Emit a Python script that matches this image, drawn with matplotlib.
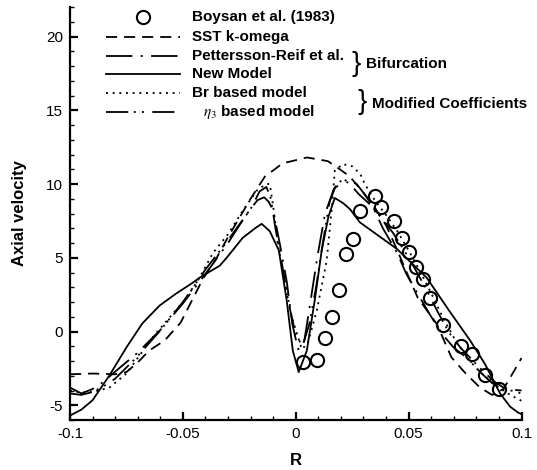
import matplotlib
matplotlib.use('Agg')
import matplotlib.pyplot as plt
from matplotlib.ticker import MultipleLocator, FixedLocator, FixedFormatter

plt.rcParams['font.family'] = ['Liberation Sans', 'DejaVu Sans']
plt.rcParams['mathtext.fontset'] = 'stix'
plt.rcParams['lines.scale_dashes'] = False

# ---------------- data ----------------
boysan_r = [0.0031, 0.0093, 0.0129, 0.0160, 0.0191, 0.0222, 0.0253, 0.0284, 0.0350, 0.0377,
            0.0435, 0.0470, 0.0500, 0.0532, 0.0563, 0.0594, 0.0652, 0.0732, 0.0780, 0.0838, 0.0900]
boysan_v = [-2.09, -1.96, -0.41, 1.01, 2.84, 5.27, 6.28, 8.18, 9.19, 8.45,
            7.5, 6.35, 5.4, 4.39, 3.58, 2.30, 0.41, -0.95, -1.55, -2.97, -3.9]

sst_r = [-0.1, -0.09, -0.08, -0.075, -0.07, -0.065, -0.058, -0.051, -0.046, -0.041, -0.035,
         -0.03, -0.02, -0.0137, -0.0058, 0.005, 0.0142, 0.0195, 0.024, 0.03, 0.035, 0.04,
         0.045, 0.05, 0.054, 0.0625, 0.069, 0.075, 0.0816, 0.087, 0.092, 0.097, 0.1]
sst_v = [-2.9, -2.85, -2.9, -2.75, -2.1, -1.3, -0.6, 0.6, 2.1, 3.6, 5.0,
         6.4, 9.0, 10.5, 11.4, 11.8, 11.55, 11.0, 10.5, 9.4, 8.4, 7.2,
         5.5, 3.7, 2.3, 0.5, -1.76, -2.8, -3.8, -4.3, -3.9, -2.6, -1.8]

pr_r = [-0.1, -0.095, -0.09, -0.085, -0.081, -0.0705, -0.06, -0.05, -0.04, -0.03, -0.022,
        -0.017, -0.014, -0.012, -0.010, -0.007, -0.004, -0.0015, 0.001, 0.0035, 0.006,
        0.0095, 0.013, 0.017, 0.0226, 0.027, 0.031, 0.034, 0.0386, 0.045, 0.049, 0.055,
        0.06, 0.065, 0.07, 0.0767, 0.082, 0.087, 0.092, 0.1]
pr_v = [-3.8, -4.2, -3.9, -3.4, -2.85, -1.5, 0.1, 1.9, 3.9, 6.0, 7.9,
        8.9, 9.1, 8.8, 8.2, 5.9, 3.4, 0.5, -1.2, -0.9, 1.5,
        5.0, 8.0, 9.7, 10.3, 10.0, 9.2, 8.5, 7.0, 5.3, 3.9, 2.3,
        1.0, -0.2, -1.1, -1.9, -2.8, -3.5, -3.9, -4.0]

new_r = [-0.1, -0.095, -0.09, -0.0825, -0.075, -0.068, -0.0603, -0.053, -0.0457, -0.0426,
         -0.0337, -0.0306, -0.0235, -0.018, -0.0151, -0.0115, -0.0075, -0.004, -0.0013,
         0.0013, 0.0049, 0.0084, 0.0115, 0.0145, 0.0173, 0.021, 0.024, 0.0284, 0.0448,
         0.058, 0.068, 0.0772, 0.0838, 0.0905, 0.095, 0.0985, 0.1]
new_v = [-5.7, -5.3, -4.66, -2.97, -1.08, 0.54, 1.76, 2.57, 3.3, 3.65,
         4.46, 5.0, 6.35, 7.0, 7.3, 6.8, 5.5, 2.1, -1.3,
         -2.75, -1.3, 2.1, 5.5, 7.8, 9.05, 8.7, 8.3, 7.4, 5.6,
         3.65, 1.4, -0.6, -2.2, -4.2, -5.1, -5.5, -5.6]

br_r = [-0.1, -0.095, -0.09, -0.0825, -0.075, -0.0634, -0.0559, -0.0483, -0.0426, -0.0368,
        -0.03, -0.023, -0.017, -0.013, -0.0115, -0.010, -0.008, -0.0058, -0.0018, 0.0027,
        0.0053, 0.0093, 0.0137, 0.016, 0.0173, 0.0208, 0.025, 0.0285, 0.0306, 0.035, 0.04,
        0.045, 0.05, 0.055, 0.06, 0.065, 0.07, 0.075, 0.08, 0.085, 0.09, 0.095, 0.1]
br_v = [-4.0, -4.15, -4.1, -3.8, -2.85, -0.4, 0.95, 2.3, 3.65, 5.3,
        6.6, 8.3, 9.6, 10.0, 10.0, 8.5, 6.0, 4.1, 1.0, -1.2,
        -0.8, 1.4, 4.8, 8.4, 10.9, 11.35, 11.2, 10.7, 10.0, 8.9, 7.9,
        6.8, 5.5, 4.1, 2.6, 1.0, -0.4, -1.6, -2.5, -3.2, -3.8, -4.3, -4.7]

eta_r = [-0.1, -0.095, -0.09, -0.085, -0.08, -0.0705, -0.06, -0.05, -0.04, -0.03, -0.02,
         -0.016, -0.013, -0.011, -0.009, -0.006, -0.003, 0.0, 0.003, 0.006, 0.009, 0.012,
         0.015, 0.018, 0.021, 0.024, 0.028, 0.033, 0.038, 0.043, 0.048, 0.053, 0.058,
         0.063, 0.068, 0.073, 0.078, 0.083, 0.088, 0.093, 0.1]
eta_v = [-4.2, -4.3, -4.1, -3.7, -3.2, -1.75, 0.07, 2.0, 4.2, 6.2, 8.3,
         9.5, 9.8, 9.0, 7.0, 4.5, 1.8, -0.2, -1.0, 0.5, 3.0, 6.0,
         8.8, 10.0, 10.3, 10.0, 9.3, 8.6, 7.7, 6.7, 5.5, 4.2, 2.8,
         1.3, -0.1, -1.1, -1.9, -2.7, -3.4, -3.9, -4.2]

x_ticks = [-0.1, -0.05, 0.0, 0.05, 0.1]
x_tick_labels = ['-0.1', '-0.05', '0', '0.05', '0.1']
y_ticks = [-5, 0, 5, 10, 15, 20]
y_tick_labels = ['-5', '0', '5', '10', '15', '20']

labels = ['Boysan et al. (1983)', 'SST k-omega', 'Pettersson-Reif et al.', 'New Model',
          'Br based model', r'$\eta_3$ based model']
group_labels = ['Bifurcation', 'Modified Coefficients']

# ---------------- styles ----------------
LW = 1.3
sty_sst = dict(color='black', lw=LW, dashes=(8, 5))
sty_pr = dict(color='black', lw=LW, dashes=(19, 6, 1.5, 6))
sty_new = dict(color='black', lw=LW, linestyle='-')
sty_br = dict(color='black', lw=LW, dashes=(1.4, 3.4))
sty_eta = dict(color='black', lw=LW, dashes=(16, 4, 1.4, 4.5, 1.4, 6))
sty_exp = dict(linestyle='none', marker='o', ms=9.5, mfc='none', mec='black', mew=1.5)

W, H = 537, 470
fig = plt.figure(figsize=(W / 100, H / 100), dpi=100)
ax = fig.add_axes([70 / W, 1 - 420 / H, (521.5 - 70) / W, (420 - 7) / H])

ax.plot(sst_r, sst_v, **sty_sst)
ax.plot(pr_r, pr_v, **sty_pr)
ax.plot(new_r, new_v, **sty_new)
ax.plot(br_r, br_v, **sty_br)
ax.plot(eta_r, eta_v, **sty_eta)
ax.plot(boysan_r, boysan_v, **sty_exp)

ax.set_xlim(-0.1, 0.1)
ax.set_ylim(-6, 22)
for s in ['top', 'right']:
    ax.spines[s].set_visible(False)
for s in ['left', 'bottom']:
    ax.spines[s].set_linewidth(1.6)

ax.xaxis.set_major_locator(FixedLocator(x_ticks))
ax.xaxis.set_major_formatter(FixedFormatter(x_tick_labels))
ax.yaxis.set_major_locator(FixedLocator(y_ticks))
ax.yaxis.set_major_formatter(FixedFormatter(y_tick_labels))
ax.xaxis.set_minor_locator(MultipleLocator(0.01))
ax.yaxis.set_minor_locator(MultipleLocator(1))
ax.tick_params(which='major', direction='in', length=6, width=1.6, labelsize=11, pad=5)
ax.tick_params(which='minor', direction='in', length=3, width=1.0)
ax.tick_params(top=False, right=False, which='both')

ax.set_xlabel('R', fontsize=12, fontweight='bold', labelpad=9)
ax.set_ylabel('Axial velocity', fontsize=12, fontweight='bold', labelpad=14)

# ---------------- legend (manual, figure pixel coords) ----------------
def fx(x):
    return x / W

def fy(y):
    return 1 - y / H

tf = fig.transFigure
line_x0, line_x1, text_x = 106, 180, 192
rows_y = [17, 37, 56, 74, 93, 112]
FS = 11
fig.add_artist(plt.Line2D([fx((line_x0 + line_x1) / 2)], [fy(rows_y[0])], transform=tf, **sty_exp))
for y, st in zip(rows_y[1:], [sty_sst, sty_pr, sty_new, sty_br, sty_eta]):
    fig.add_artist(plt.Line2D([fx(line_x0), fx(line_x1)], [fy(y), fy(y)], transform=tf, **st))
for i, (y, lab) in enumerate(zip(rows_y, labels)):
    x = text_x + (11 if i == 5 else 0)
    fig.text(fx(x), fy(y), lab, fontsize=FS, fontweight='bold', va='center', ha='left')

fig.text(fx(352), fy(64), '}', fontsize=20, va='center', ha='left')
fig.text(fx(366), fy(64), group_labels[0], fontsize=FS, fontweight='bold', va='center', ha='left')
fig.text(fx(358), fy(102), '}', fontsize=20, va='center', ha='left')
fig.text(fx(372), fy(104), group_labels[1], fontsize=FS, fontweight='bold', va='center', ha='left')

fig.savefig('out.png', dpi=100)
